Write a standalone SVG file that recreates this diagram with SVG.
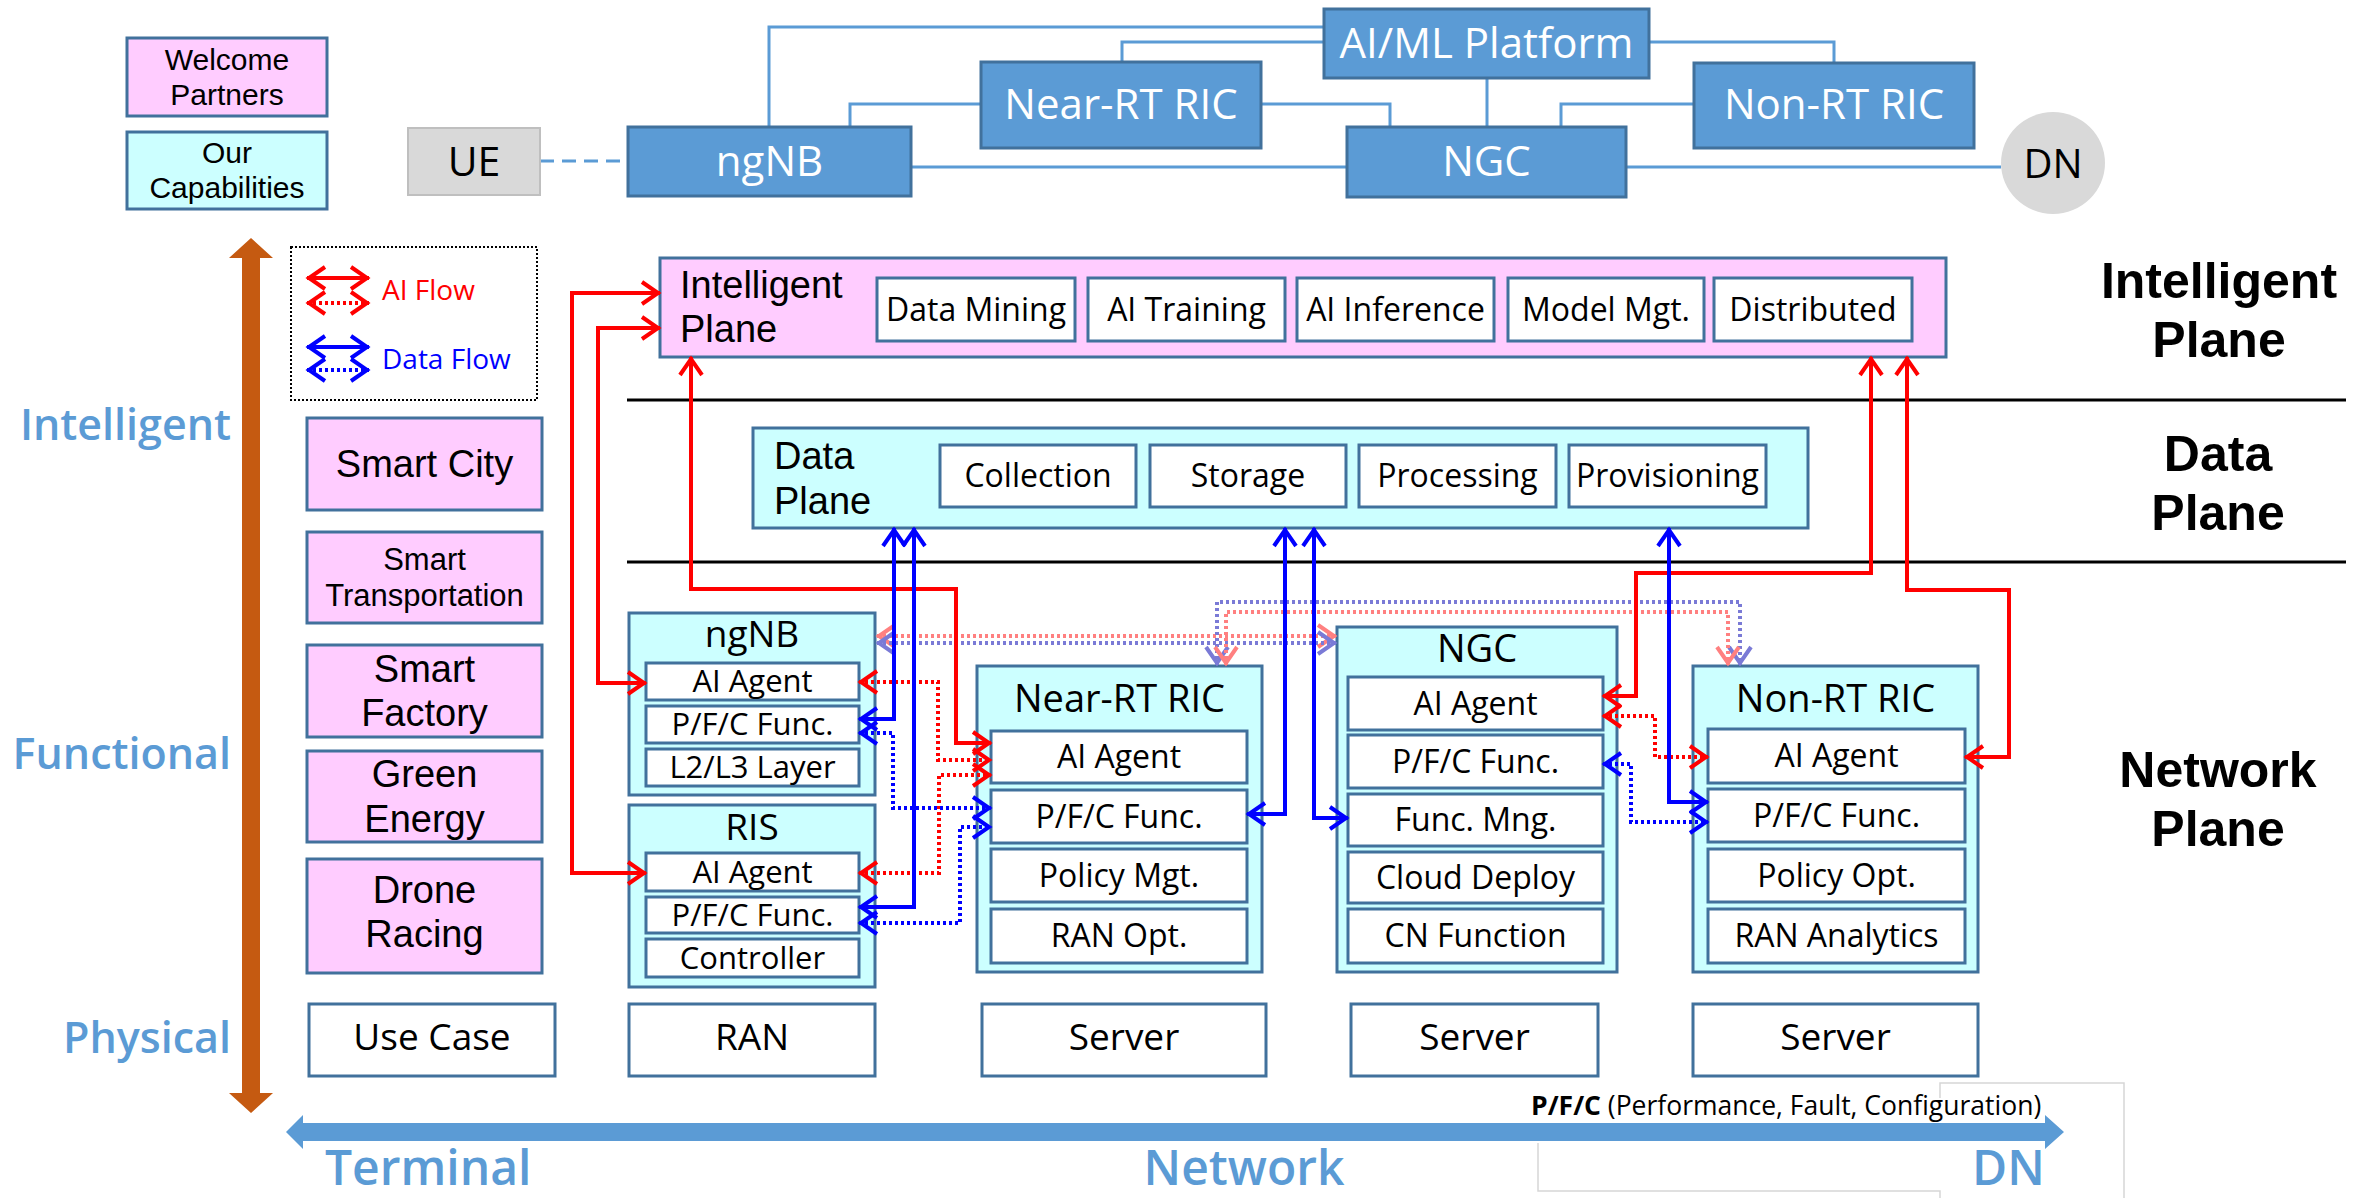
<svg xmlns="http://www.w3.org/2000/svg" width="2369" height="1198" viewBox="0 0 2369 1198">
<style>
text{font-family:"Open Sans","Liberation Sans",sans-serif;fill:#000}
.c{text-anchor:middle}
.lib{font-family:"Liberation Sans","Open Sans",sans-serif}
.box{stroke:#41719C;stroke-width:3}
.pink{fill:#FFCCFF}
.cyan{fill:#CCFFFF}
.white{fill:#FFFFFF}
.top{fill:#5B9BD5;stroke:#41719C;stroke-width:3}
.tt{fill:#FFFFFF;font-size:42px;text-anchor:middle}
.sub{font-size:32px;text-anchor:middle}
.sub31{font-size:31px;text-anchor:middle}
.ttl{font-size:38px;text-anchor:middle}
.uc{font-size:37px;text-anchor:middle}
.pk{font-family:"Liberation Sans","Open Sans",sans-serif;font-size:38px;text-anchor:middle}
.pks{font-family:"Liberation Sans","Open Sans",sans-serif;font-size:31px;text-anchor:middle}
.rl{font-family:"Liberation Sans","Open Sans",sans-serif;font-size:50px;font-weight:bold;text-anchor:middle}
.ll{font-size:43px;font-weight:600;fill:#5B9BD5;text-anchor:end}
.bl{font-size:48px;font-weight:600;fill:#5B9BD5}
.tl{fill:none;stroke:#5B9BD5;stroke-width:3}
.rs{fill:none;stroke:#FF0000;stroke-width:4;marker-start:url(#mr);marker-end:url(#mr)}
.rd{fill:none;stroke:#FF0000;stroke-width:4;stroke-dasharray:3 3;marker-start:url(#mr);marker-end:url(#mr)}
.bs{fill:none;stroke:#0000FF;stroke-width:4;marker-start:url(#mb);marker-end:url(#mb)}
.bd{fill:none;stroke:#0000FF;stroke-width:4;stroke-dasharray:3 3;marker-start:url(#mb);marker-end:url(#mb)}
.lrd{fill:none;stroke:#FF8080;stroke-width:4;stroke-dasharray:3 3;marker-start:url(#mlr);marker-end:url(#mlr)}
.lbd{fill:none;stroke:#7A7AD6;stroke-width:4;stroke-dasharray:3 3;marker-start:url(#mlb);marker-end:url(#mlb)}
</style>
<defs>
<marker id="mr" markerUnits="userSpaceOnUse" markerWidth="40" markerHeight="40" refX="0" refY="0" orient="auto-start-reverse" overflow="visible"><path d="M-18,-11 L-2,0 L-18,11" fill="none" stroke="#FF0000" stroke-width="4"/></marker>
<marker id="mb" markerUnits="userSpaceOnUse" markerWidth="40" markerHeight="40" refX="0" refY="0" orient="auto-start-reverse" overflow="visible"><path d="M-18,-11 L-2,0 L-18,11" fill="none" stroke="#0000FF" stroke-width="4"/></marker>
<marker id="mlr" markerUnits="userSpaceOnUse" markerWidth="40" markerHeight="40" refX="0" refY="0" orient="auto-start-reverse" overflow="visible"><path d="M-18,-11 L-2,0 L-18,11" fill="none" stroke="#FF8080" stroke-width="4"/></marker>
<marker id="mlb" markerUnits="userSpaceOnUse" markerWidth="40" markerHeight="40" refX="0" refY="0" orient="auto-start-reverse" overflow="visible"><path d="M-18,-11 L-2,0 L-18,11" fill="none" stroke="#7A7AD6" stroke-width="4"/></marker>
</defs>
<rect x="0" y="0" width="2369" height="1198" fill="#FFFFFF"/>

<!-- faint text box borders -->
<path d="M1538,1143 V1191 H1940 V1198 M1940,1098 V1083 H2124 V1198" fill="none" stroke="#D6D6D6" stroke-width="1.5"/>

<!-- axes -->
<polygon id="vertical-axis" points="251,238 273,258 260,258 260,1093 273,1093 251,1113 229,1093 242,1093 242,258 229,258" fill="#C55A11"/>
<polygon id="horizontal-axis" points="286,1132 303,1115 303,1123 2045,1123 2045,1115 2064,1132 2045,1149 2045,1141 303,1141 303,1149" fill="#5B9BD5"/>
<path d="M627,400 H2346 M627,562 H2346" stroke="#000" stroke-width="3"/>

<!-- labels -->
<text class="ll" x="231" y="440">Intelligent</text>
<text class="ll" x="231" y="769">Functional</text>
<text class="ll" x="231" y="1053">Physical</text>
<text class="bl" x="325" y="1185">Terminal</text>
<text class="bl" x="1244" y="1185" text-anchor="middle">Network</text>
<text class="bl" x="1972" y="1185">DN</text>
<text class="rl" x="2219" y="298">Intelligent</text>
<text class="rl" x="2219" y="357">Plane</text>
<text class="rl" x="2218" y="471">Data</text>
<text class="rl" x="2218" y="530">Plane</text>
<text class="rl" x="2218" y="787">Network</text>
<text class="rl" x="2218" y="846">Plane</text>
<text x="1531" y="1115" font-size="26.5"><tspan font-weight="bold">P/F/C</tspan> (Performance, Fault, Configuration)</text>

<!-- legend -->
<g id="legend">
<rect x="291" y="247" width="246" height="153" fill="none" stroke="#000" stroke-width="2" stroke-dasharray="2 2"/>
<path class="rs" d="M307,278 H369"/>
<path class="rd" d="M307,303 H369"/>
<path class="bs" d="M307,347 H369"/>
<path class="bd" d="M307,370 H369"/>
<text x="382" y="300" font-size="28" style="fill:#FF0000">AI Flow</text>
<text x="382" y="369" font-size="28" style="fill:#0000FF">Data Flow</text>
</g>

<g id="welcome-partners"><rect class="box pink" x="127" y="38" width="200" height="78"/><text class="c lib" x="227" y="70" font-size="30">Welcome</text><text class="c lib" x="227" y="105" font-size="30">Partners</text></g>
<g id="our-capabilities"><rect class="box cyan" x="127" y="132" width="200" height="77"/><text class="c lib" x="227" y="163" font-size="30">Our</text><text class="c lib" x="227" y="198" font-size="30">Capabilities</text></g>

<!-- top architecture connectors -->
<g id="top-connectors">
<path class="tl" d="M769,127 V27 H1324"/>
<path class="tl" d="M1122,62 V42 H1324"/>
<path class="tl" d="M1649,42 H1834 V63"/>
<path class="tl" d="M1487,78 V127"/>
<path class="tl" d="M850,127 V104 H981"/>
<path class="tl" d="M1261,104 H1390 V127"/>
<path class="tl" d="M1561,127 V104 H1694"/>
<path class="tl" d="M911,167 H1347"/>
<path class="tl" d="M1626,167 H2001"/>
<path class="tl" d="M540,161 H628" stroke-dasharray="14 8"/>
</g>

<g id="ue"><rect x="408" y="128" width="132" height="67" fill="#D9D9D9" stroke="#BFBFBF" stroke-width="2"/><text class="c" x="474" y="176" font-size="41">UE</text></g>
<g id="top-ngnb"><rect class="top" x="628" y="127" width="283" height="69"/><text class="tt" x="769.5" y="176">ngNB</text></g>
<g id="top-near-rt-ric"><rect class="top" x="981" y="62" width="280" height="86"/><text class="tt" x="1121" y="119">Near-RT RIC</text></g>
<g id="top-aiml"><rect class="top" x="1324" y="9" width="325" height="69"/><text class="tt" x="1486.5" y="58">AI/ML Platform</text></g>
<g id="top-ngc"><rect class="top" x="1347" y="127" width="279" height="70"/><text class="tt" x="1486.5" y="176">NGC</text></g>
<g id="top-non-rt-ric"><rect class="top" x="1694" y="63" width="280" height="85"/><text class="tt" x="1834" y="119">Non-RT RIC</text></g>
<g id="top-dn"><ellipse cx="2053" cy="163" rx="52" ry="51" fill="#D9D9D9"/><text class="c" x="2053" y="178" font-size="40">DN</text></g>

<!-- Intelligent plane -->
<g id="intelligent-plane">
<rect class="box pink" x="660" y="258" width="1286" height="99"/>
<text class="lib" x="680" y="298" font-size="38">Intelligent</text>
<text class="lib" x="680" y="342" font-size="38">Plane</text>
<rect class="box white" x="877" y="278" width="198" height="63"/><text class="sub" x="976" y="321">Data Mining</text>
<rect class="box white" x="1088" y="278" width="197" height="63"/><text class="sub" x="1186.5" y="321">AI Training</text>
<rect class="box white" x="1297" y="278" width="197" height="63"/><text class="sub" x="1395.5" y="321">AI Inference</text>
<rect class="box white" x="1508" y="278" width="196" height="63"/><text class="sub" x="1606" y="321">Model Mgt.</text>
<rect class="box white" x="1714" y="278" width="198" height="63"/><text class="sub" x="1813" y="321">Distributed</text>
</g>

<!-- Data plane -->
<g id="data-plane">
<rect class="box cyan" x="753" y="428" width="1055" height="100"/>
<text class="lib" x="774" y="469" font-size="38">Data</text>
<text class="lib" x="774" y="514" font-size="38">Plane</text>
<rect class="box white" x="940" y="445" width="196" height="62"/><text class="sub" x="1038" y="487">Collection</text>
<rect class="box white" x="1150" y="445" width="196" height="62"/><text class="sub" x="1248" y="487">Storage</text>
<rect class="box white" x="1359" y="445" width="197" height="62"/><text class="sub" x="1457.5" y="487">Processing</text>
<rect class="box white" x="1569" y="445" width="197" height="62"/><text class="sub" x="1667.5" y="487">Provisioning</text>
</g>

<!-- use cases -->
<g id="smart-city"><rect class="box pink" x="307" y="418" width="235" height="92"/><text class="pk" x="424.5" y="477">Smart City</text></g>
<g id="smart-transportation"><rect class="box pink" x="307" y="532" width="235" height="91"/><text class="pks" x="424.5" y="570">Smart</text><text class="pks" x="424.5" y="606">Transportation</text></g>
<g id="smart-factory"><rect class="box pink" x="307" y="645" width="235" height="92"/><text class="pk" x="424.5" y="682">Smart</text><text class="pk" x="424.5" y="726">Factory</text></g>
<g id="green-energy"><rect class="box pink" x="307" y="751" width="235" height="91"/><text class="pk" x="424.5" y="787">Green</text><text class="pk" x="424.5" y="832">Energy</text></g>
<g id="drone-racing"><rect class="box pink" x="307" y="859" width="235" height="114"/><text class="pk" x="424.5" y="903">Drone</text><text class="pk" x="424.5" y="947">Racing</text></g>

<!-- physical row -->
<g id="use-case"><rect class="box white" x="309" y="1004" width="246" height="72"/><text class="uc" x="432" y="1050">Use Case</text></g>
<g id="ran"><rect class="box white" x="629" y="1004" width="246" height="72"/><text class="uc" x="752" y="1050">RAN</text></g>
<g id="server-1"><rect class="box white" x="982" y="1004" width="284" height="72"/><text class="uc" x="1124" y="1050">Server</text></g>
<g id="server-2"><rect class="box white" x="1351" y="1004" width="247" height="72"/><text class="uc" x="1474.5" y="1050">Server</text></g>
<g id="server-3"><rect class="box white" x="1693" y="1004" width="285" height="72"/><text class="uc" x="1835.5" y="1050">Server</text></g>

<!-- network plane nodes -->
<g id="ngnb">
<rect class="box cyan" x="629" y="613" width="246" height="182"/>
<text class="c" x="752" y="647" font-size="37">ngNB</text>
<rect class="box white" x="646" y="663" width="213" height="37"/><text class="sub31" x="752.5" y="692">AI Agent</text>
<rect class="box white" x="646" y="706" width="213" height="37"/><text class="sub31" x="752.5" y="735">P/F/C Func.</text>
<rect class="box white" x="646" y="749" width="213" height="37"/><text class="sub31" x="752.5" y="778">L2/L3 Layer</text>
</g>
<g id="ris">
<rect class="box cyan" x="629" y="805" width="246" height="182"/>
<text class="c" x="752" y="840" font-size="37">RIS</text>
<rect class="box white" x="646" y="853" width="213" height="38"/><text class="sub31" x="752.5" y="883">AI Agent</text>
<rect class="box white" x="646" y="897" width="213" height="36"/><text class="sub31" x="752.5" y="926">P/F/C Func.</text>
<rect class="box white" x="646" y="939" width="213" height="38"/><text class="sub31" x="752.5" y="969">Controller</text>
</g>
<g id="near-rt-ric">
<rect class="box cyan" x="977" y="666" width="285" height="306"/>
<text class="ttl" x="1119.5" y="712">Near-RT RIC</text>
<rect class="box white" x="991" y="731" width="256" height="52"/><text class="sub" x="1119" y="768">AI Agent</text>
<rect class="box white" x="991" y="790" width="256" height="53"/><text class="sub" x="1119" y="828">P/F/C Func.</text>
<rect class="box white" x="991" y="849" width="256" height="53"/><text class="sub" x="1119" y="887">Policy Mgt.</text>
<rect class="box white" x="991" y="909" width="256" height="54"/><text class="sub" x="1119" y="947">RAN Opt.</text>
</g>
<g id="ngc">
<rect class="box cyan" x="1337" y="627" width="280" height="345"/>
<text class="ttl" x="1477" y="662">NGC</text>
<rect class="box white" x="1348" y="677" width="255" height="53"/><text class="sub" x="1475.5" y="715">AI Agent</text>
<rect class="box white" x="1348" y="735" width="255" height="53"/><text class="sub" x="1475.5" y="773">P/F/C Func.</text>
<rect class="box white" x="1348" y="794" width="255" height="52"/><text class="sub" x="1475.5" y="831">Func. Mng.</text>
<rect class="box white" x="1348" y="852" width="255" height="51"/><text class="sub" x="1475.5" y="889">Cloud Deploy</text>
<rect class="box white" x="1348" y="909" width="255" height="54"/><text class="sub" x="1475.5" y="947">CN Function</text>
</g>
<g id="non-rt-ric">
<rect class="box cyan" x="1693" y="666" width="285" height="306"/>
<text class="ttl" x="1835.5" y="712">Non-RT RIC</text>
<rect class="box white" x="1708" y="729" width="257" height="54"/><text class="sub" x="1836.5" y="767">AI Agent</text>
<rect class="box white" x="1708" y="789" width="257" height="53"/><text class="sub" x="1836.5" y="827">P/F/C Func.</text>
<rect class="box white" x="1708" y="849" width="257" height="53"/><text class="sub" x="1836.5" y="887">Policy Opt.</text>
<rect class="box white" x="1708" y="909" width="257" height="54"/><text class="sub" x="1836.5" y="947">RAN Analytics</text>
</g>

<!-- flow connectors -->
<g id="connectors">
<path class="lrd" d="M877,636 H1336"/>
<path class="lbd" d="M877,643 H1336"/>
<path class="lbd" d="M1217,665 V602 H1740 V665"/>
<path class="lrd" d="M1226,665 V612 H1728 V665"/>
<path class="rs" d="M646,873 H572 V293 H660"/>
<path class="rs" d="M646,683 H598 V328 H660"/>
<path class="rs" d="M691,357 V589 H956 V743 H991"/>
<path class="rs" d="M1871,357 V573 H1636 V696 H1603"/>
<path class="rs" d="M1907,357 V590 H2009 V757 H1965"/>
<path class="rd" d="M859,682 H938 V760 H991"/>
<path class="rd" d="M859,873 H939 V775 H991"/>
<path class="rd" d="M1603,716 H1655 V757 H1708"/>
<path class="bs" d="M894,528 V719 H859"/>
<path class="bs" d="M914,528 V907 H859"/>
<path class="bs" d="M1285,528 V814 H1247"/>
<path class="bs" d="M1314,528 V818 H1348"/>
<path class="bs" d="M1669,528 V802 H1708"/>
<path class="bd" d="M859,733 H893 V808 H991"/>
<path class="bd" d="M859,923 H960 V827 H991"/>
<path class="bd" d="M1603,764 H1631 V822 H1708"/>
</g>
</svg>
